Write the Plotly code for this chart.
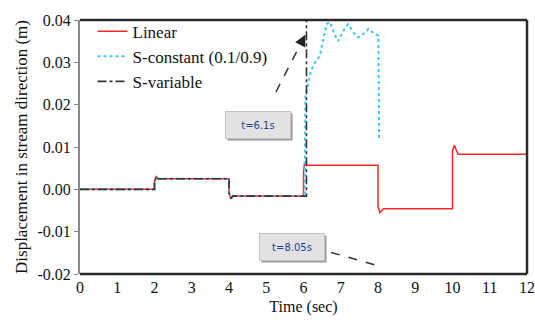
import plotly.graph_objects as go

# ---- data ----
t_linear = [0, 2.0, 2.0, 2.05, 2.1, 4.0, 4.0, 4.05, 4.1, 6.0, 6.0, 6.03, 6.08,
            8.0, 8.0, 8.05, 8.15, 10.0, 10.0, 10.05, 10.15, 12.0]
d_linear = [0, 0, 0.0018, 0.003, 0.0025, 0.0025, -0.0008, -0.0022, -0.0016, -0.0016,
            0.004, 0.0064, 0.0057, 0.0057, -0.004, -0.0055, -0.0046, -0.0046,
            0.009, 0.0104, 0.0083, 0.0083]

t_sconst = [0, 2.0, 2.0, 2.05, 2.1, 4.0, 4.0, 4.05, 4.1, 6.03, 6.05, 6.2, 6.31, 6.44,
            6.53, 6.62, 6.71, 6.85, 6.93, 7.07, 7.2, 7.34, 7.47, 7.65, 7.74, 7.87,
            8.01, 8.03]
d_sconst = [0, 0, 0.0018, 0.003, 0.0025, 0.0025, -0.0008, -0.0022, -0.0016, -0.0016,
            0.022, 0.028, 0.030, 0.0315, 0.0355, 0.039, 0.0395, 0.0363, 0.035,
            0.0375, 0.039, 0.037, 0.0359, 0.037, 0.0379, 0.037, 0.0363, 0.0117]

t_svar = [0, 2.0, 2.0, 2.05, 2.1, 4.0, 4.0, 4.05, 4.1, 6.08, 6.08]
d_svar = [0, 0, 0.0018, 0.003, 0.0025, 0.0025, -0.0008, -0.0022, -0.0016, -0.0016, 0.046]

x_ticks = list(range(0, 13))
x_tick_labels = [str(v) for v in x_ticks]
y_ticks = [-0.02, -0.01, 0.0, 0.01, 0.02, 0.03, 0.04]
y_tick_labels = ["-0.02", "-0.01", "0.00", "0.01", "0.02", "0.03", "0.04"]

series_names = ["Linear", "S-constant (0.1/0.9)", "S-variable"]
note_texts = ["t=6.1s", "t=8.05s"]

FONT = "Times New Roman, Liberation Serif, serif"

fig = go.Figure()
fig.add_trace(go.Scatter(x=t_linear, y=d_linear, mode="lines", name=series_names[0],
                         line=dict(color="#ff2626", width=1.5)))
fig.add_trace(go.Scatter(x=t_sconst, y=d_sconst, mode="lines", name=series_names[1],
                         line=dict(color="#40c8f2", width=2, dash="dot")))
fig.add_trace(go.Scatter(x=t_svar, y=d_svar, mode="lines", name=series_names[2],
                         line=dict(color="#333333", width=1.6, dash="dashdot")))

fig.update_layout(
    width=535, height=323,
    margin=dict(l=80, r=8, t=20, b=49, autoexpand=False),
    paper_bgcolor="white", plot_bgcolor="white",
    font=dict(family=FONT, size=16, color="#111"),
    showlegend=True,
    legend=dict(x=0.028, y=1.025, xanchor="left", yanchor="top",
                bgcolor="rgba(255,255,255,0)", font=dict(family=FONT, size=17),
                itemwidth=30),
    xaxis=dict(range=[0, 12], tickvals=x_ticks, ticktext=x_tick_labels,
               showgrid=False, zeroline=False, showline=False, ticks="",
               automargin=False, ticklabelstandoff=2, ticklabeloverflow="allow",
               title=dict(text="Time (sec)", font=dict(family=FONT, size=16), standoff=5)),
    xaxis2=dict(range=[0, 12], overlaying="x", anchor="free", position=1/3,
                side="bottom", tickvals=x_ticks, showticklabels=False,
                ticks="outside", ticklen=4, tickcolor="#888", tickwidth=1.5,
                showline=True, linecolor="#888", linewidth=1.5,
                showgrid=False, zeroline=False, layer="below traces"),
    yaxis=dict(range=[-0.02, 0.04], tickvals=y_ticks, ticktext=y_tick_labels,
               showgrid=False, zeroline=False, showline=True, linecolor="#888",
               linewidth=2, ticks="outside", ticklen=4, tickcolor="#888",
               automargin=False,
               title=dict(text="Displacement in stream direction (m)",
                          font=dict(family=FONT, size=17), standoff=6)),
)

# frame (top, right, bottom)
for (x0, y0, x1, y1) in [(0, 1, 1, 1), (1, 0, 1, 1), (0, 0, 1, 0)]:
    fig.add_shape(type="line", xref="paper", yref="paper", x0=x0, y0=y0, x1=x1, y1=y1,
                  line=dict(color="#2a2a2a", width=2.5), layer="above")

# annotation boxes with shadow
boxes = [(4.78, 0.0152, note_texts[0]), (5.7, -0.0137, note_texts[1])]
for bx, by, txt in boxes:
    fig.add_annotation(x=bx, y=by, xref="x", yref="y", text="", showarrow=False,
                       width=62, height=24, bgcolor="#9a9a9a", xshift=2, yshift=-2)
    fig.add_annotation(x=bx, y=by, xref="x", yref="y", text=txt, showarrow=False,
                       width=62, height=24, bgcolor="#e2e2e2", bordercolor="#c4c4c4",
                       borderwidth=1, font=dict(family="DejaVu Sans", size=10, color="#1c3f94"))

# dashed arrows
arrows = [((5.26, 0.023), (6.05, 0.0365)), ((6.74, -0.0149), (7.9, -0.0178))]
for (sx, sy), (hx, hy) in arrows:
    fig.add_shape(type="line", xref="x", yref="y", x0=sx, y0=sy, x1=hx, y1=hy,
                  line=dict(color="#333", width=1.5, dash="dash"))
    fig.add_annotation(x=hx, y=hy, ax=hx - (hx - sx) * 0.08, ay=hy - (hy - sy) * 0.08,
                       axref="x", ayref="y", xref="x", yref="y", text="",
                       showarrow=True, arrowhead=2, arrowsize=1.5, arrowwidth=1.5,
                       arrowcolor="#222")

fig.write_html("out.html", config={"displayModeBar": False},
               post_script="document.body.style.margin='0px';document.body.style.overflow='hidden';")
